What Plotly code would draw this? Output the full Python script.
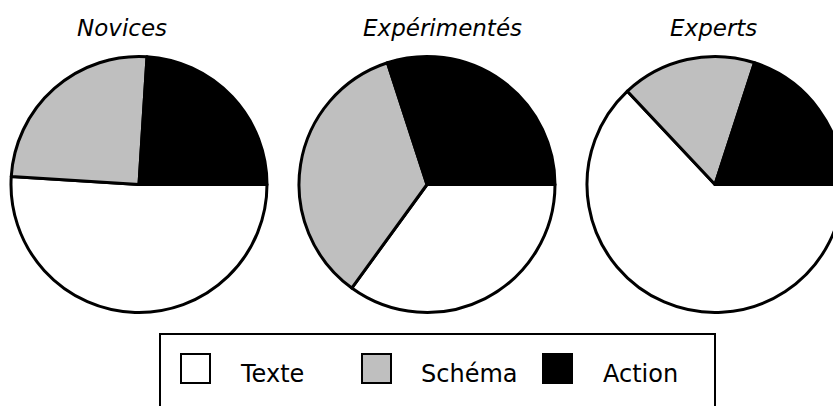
import plotly.graph_objects as go

# Share of each information type consulted, per expertise level (%)
groups = ["Novices", "Expérimentés", "Experts"]
categories = ["Texte", "Schéma", "Action"]
texte = [51, 35, 63]
schema = [25, 35, 17]
action = [24, 30, 20]

colors = ["#ffffff", "#bfbfbf", "#000000"]

# Canvas geometry (pixels); the last pie runs a little past the right edge
W, H = 843, 406
R = 128
centers_x = [139, 427, 715]
center_y = 184.5
title_x = [121.5, 442.7, 713.3]
title_y = 28

FONT = "DejaVu Sans"


def px(x):
    return min(max(x / W, 0.0), 1.0)


def py(y):
    return min(max(1 - y / H, 0.0), 1.0)


fig = go.Figure()

for i, g in enumerate(groups):
    vals = [texte[i], schema[i], action[i]]
    cx = centers_x[i]
    fig.add_trace(go.Pie(
        labels=categories,
        values=vals,
        name=g,
        sort=False,
        direction="clockwise",
        rotation=90,
        textinfo="none",
        marker=dict(colors=colors, line=dict(color="#000000", width=3)),
        domain=dict(x=[px(cx - R), px(cx + R)],
                    y=[py(center_y + R), py(center_y - R)]),
        showlegend=False,
        hovertemplate=g + "<br>%{label}: %{value}%<extra></extra>",
    ))

annotations = []
for i, g in enumerate(groups):
    annotations.append(dict(
        text=g, x=title_x[i] / W, y=py(title_y), xref="paper", yref="paper",
        xanchor="center", yanchor="middle", showarrow=False,
        font=dict(family=FONT, size=23, color="#000000", style="italic"),
    ))

# Legend: framed box with one swatch + label per category
shapes = [dict(
    type="rect", xref="paper", yref="paper",
    x0=160 / W, x1=715 / W, y0=-0.2, y1=1 - 334 / H,
    line=dict(color="#000000", width=2), fillcolor="#ffffff", layer="above",
)]
swatch_x = [181, 362, 543]
label_x = [237.5, 419, 601]
sw_top, sw_size = 354, 29
for k, cat in enumerate(categories):
    shapes.append(dict(
        type="rect", xref="paper", yref="paper",
        x0=swatch_x[k] / W, x1=(swatch_x[k] + sw_size) / W,
        y0=1 - (sw_top + sw_size) / H, y1=1 - sw_top / H,
        line=dict(color="#000000", width=2), fillcolor=colors[k], layer="above",
    ))
    annotations.append(dict(
        text=cat, x=label_x[k] / W, y=1 - 374 / H, xref="paper", yref="paper",
        xanchor="left", yanchor="middle", showarrow=False,
        font=dict(family=FONT, size=24, color="#000000"),
    ))

fig.update_layout(
    width=W, height=H,
    margin=dict(l=0, r=0, t=0, b=0),
    paper_bgcolor="#ffffff",
    plot_bgcolor="#ffffff",
    shapes=shapes,
    annotations=annotations,
)

fig.write_html(
    "out.html",
    post_script="document.documentElement.style.overflow='hidden';"
                "document.body.style.overflow='hidden';",
)
